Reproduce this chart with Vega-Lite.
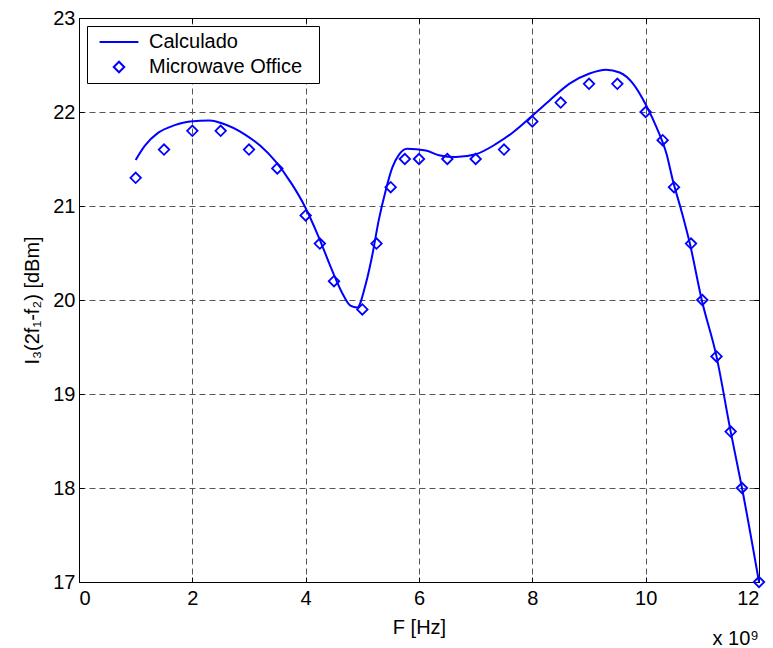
{
  "$schema": "https://vega.github.io/schema/vega-lite/v6.json",
  "width": 680,
  "height": 564,
  "autosize": {"type": "none"},
  "padding": {"left": 79, "top": 18, "right": 14, "bottom": 66},
  "background": "white",
  "title": {"text": "x 10⁹", "orient": "bottom", "anchor": "end", "offset": -8, "dx": -9, "fontSize": 20, "font": "Liberation Sans", "fontWeight": "normal", "color": "black"},
  "datasets": {
    "calc": [
      {"F": 1.0, "I3": 21.49}, {"F": 1.16, "I3": 21.64}, {"F": 1.4, "I3": 21.78}, {"F": 1.69, "I3": 21.86},
      {"F": 1.96, "I3": 21.9}, {"F": 2.31, "I3": 21.91}, {"F": 2.52, "I3": 21.88}, {"F": 2.93, "I3": 21.76},
      {"F": 3.2, "I3": 21.64}, {"F": 3.46, "I3": 21.48}, {"F": 3.76, "I3": 21.23}, {"F": 3.99, "I3": 20.99},
      {"F": 4.23, "I3": 20.67}, {"F": 4.47, "I3": 20.31}, {"F": 4.64, "I3": 20.08}, {"F": 4.79, "I3": 19.94},
      {"F": 4.91, "I3": 19.92}, {"F": 5.06, "I3": 20.17}, {"F": 5.17, "I3": 20.46}, {"F": 5.29, "I3": 20.85},
      {"F": 5.41, "I3": 21.16}, {"F": 5.53, "I3": 21.41}, {"F": 5.65, "I3": 21.55}, {"F": 5.79, "I3": 21.61},
      {"F": 6.12, "I3": 21.59}, {"F": 6.35, "I3": 21.54}, {"F": 6.65, "I3": 21.52}, {"F": 7.0, "I3": 21.55},
      {"F": 7.36, "I3": 21.66}, {"F": 7.65, "I3": 21.78}, {"F": 7.98, "I3": 21.95}, {"F": 8.3, "I3": 22.12},
      {"F": 8.65, "I3": 22.3}, {"F": 9.01, "I3": 22.41}, {"F": 9.3, "I3": 22.45}, {"F": 9.54, "I3": 22.42},
      {"F": 9.78, "I3": 22.3}, {"F": 10.01, "I3": 22.07}, {"F": 10.19, "I3": 21.84}, {"F": 10.37, "I3": 21.55},
      {"F": 10.48, "I3": 21.27}, {"F": 10.63, "I3": 20.95}, {"F": 10.78, "I3": 20.6}, {"F": 10.99, "I3": 20.0},
      {"F": 11.25, "I3": 19.4}, {"F": 11.5, "I3": 18.6}, {"F": 11.7, "I3": 18.0}, {"F": 12.0, "I3": 17.0}
    ],
    "mwo": [
      {"F": 1.0, "I3": 21.3, "series": "Microwave Office"}, {"F": 1.5, "I3": 21.6, "series": "Microwave Office"},
      {"F": 2.0, "I3": 21.8, "series": "Microwave Office"}, {"F": 2.5, "I3": 21.8, "series": "Microwave Office"},
      {"F": 3.0, "I3": 21.6, "series": "Microwave Office"}, {"F": 3.5, "I3": 21.4, "series": "Microwave Office"},
      {"F": 4.0, "I3": 20.9, "series": "Microwave Office"}, {"F": 4.25, "I3": 20.6, "series": "Microwave Office"},
      {"F": 4.5, "I3": 20.2, "series": "Microwave Office"}, {"F": 5.0, "I3": 19.9, "series": "Microwave Office"},
      {"F": 5.25, "I3": 20.6, "series": "Microwave Office"}, {"F": 5.5, "I3": 21.2, "series": "Microwave Office"},
      {"F": 5.75, "I3": 21.5, "series": "Microwave Office"}, {"F": 6.0, "I3": 21.5, "series": "Microwave Office"},
      {"F": 6.5, "I3": 21.5, "series": "Microwave Office"}, {"F": 7.0, "I3": 21.5, "series": "Microwave Office"},
      {"F": 7.5, "I3": 21.6, "series": "Microwave Office"}, {"F": 8.0, "I3": 21.9, "series": "Microwave Office"},
      {"F": 8.5, "I3": 22.1, "series": "Microwave Office"}, {"F": 9.0, "I3": 22.3, "series": "Microwave Office"},
      {"F": 9.5, "I3": 22.3, "series": "Microwave Office"}, {"F": 10.0, "I3": 22.0, "series": "Microwave Office"},
      {"F": 10.3, "I3": 21.7, "series": "Microwave Office"}, {"F": 10.5, "I3": 21.2, "series": "Microwave Office"},
      {"F": 10.8, "I3": 20.6, "series": "Microwave Office"}, {"F": 11.0, "I3": 20.0, "series": "Microwave Office"},
      {"F": 11.25, "I3": 19.4, "series": "Microwave Office"}, {"F": 11.5, "I3": 18.6, "series": "Microwave Office"},
      {"F": 11.7, "I3": 18.0, "series": "Microwave Office"}, {"F": 12.0, "I3": 17.0, "series": "Microwave Office"}
    ]
  },
  "layer": [
    {
      "data": {"name": "calc"},
      "mark": {"type": "line", "color": "#0000ff", "strokeWidth": 2, "interpolate": "monotone"},
      "encoding": {
        "x": {"field": "F", "type": "quantitative", "scale": {"domain": [0, 12], "nice": false, "zero": false},
          "axis": {"title": "F [Hz]", "values": [0, 2, 4, 6, 8, 10, 12], "format": "d", "orient": "bottom"}},
        "y": {"field": "I3", "type": "quantitative", "scale": {"domain": [17, 23], "nice": false, "zero": false},
          "axis": {"title": "I₃(2f₁-f₂) [dBm]", "values": [17, 18, 19, 20, 21, 22, 23], "format": "d", "orient": "left"}}
      }
    },
    {
      "data": {"name": "mwo"},
      "mark": {"type": "point", "filled": false, "color": "#0000ff", "strokeWidth": 1.8, "size": 110, "opacity": 1},
      "encoding": {
        "x": {"field": "F", "type": "quantitative", "scale": {"domain": [0, 12], "nice": false, "zero": false},
          "axis": {"title": null, "values": [0, 2, 4, 6, 8, 10, 12], "orient": "top", "labels": false, "grid": false}},
        "y": {"field": "I3", "type": "quantitative", "scale": {"domain": [17, 23], "nice": false, "zero": false},
          "axis": {"title": null, "values": [17, 18, 19, 20, 21, 22, 23], "orient": "right", "labels": false, "grid": false}},
        "shape": {"field": "series", "type": "nominal",
          "scale": {"domain": ["Calculado", "Microwave Office"], "range": ["M-3.7,0H3.7", "diamond"]},
          "legend": {
            "title": "M", "titleOrient": "right", "titleColor": "transparent", "titleFontSize": 11, "titlePadding": 1,
            "orient": "top-left", "offset": 8, "padding": 6,
            "strokeColor": "black", "fillColor": "white",
            "symbolSize": 110, "symbolStrokeColor": "#0000ff", "symbolStrokeWidth": 2,
            "symbolOffset": 16, "labelOffset": 20, "rowPadding": 5,
            "labelFontSize": 20, "labelFont": "Liberation Sans", "labelColor": "black", "labelLimit": 400
          }
        }
      }
    }
  ],
  "resolve": {"axis": {"x": "independent", "y": "independent"}},
  "config": {
    "view": {"stroke": "black", "strokeWidth": 1},
    "axis": {
      "labelFont": "Liberation Sans", "labelFontSize": 20, "labelColor": "black",
      "titleFont": "Liberation Sans", "titleFontSize": 20, "titleFontWeight": "normal", "titleColor": "black",
      "grid": true, "gridColor": "#555", "gridDash": [6, 4], "gridWidth": 1,
      "ticks": true, "tickSize": -5, "tickColor": "black", "tickWidth": 1,
      "domain": true, "domainColor": "black", "domainWidth": 1
    },
    "axisX": {"labelPadding": 11, "titlePadding": 9},
    "axisY": {"labelPadding": 9, "titlePadding": 10}
  }
}
